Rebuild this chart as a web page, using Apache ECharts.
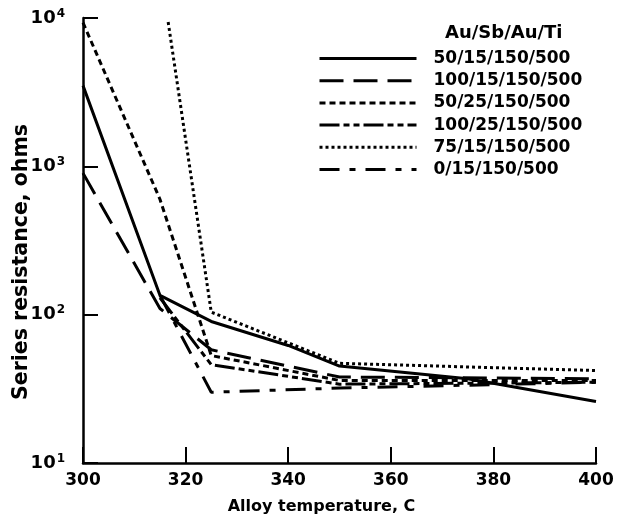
<!DOCTYPE html>
<html>
<head>
<meta charset="utf-8">
<script src="https://cdn.jsdelivr.net/npm/echarts@6/dist/echarts.min.js"></script>
<style>html,body{margin:0;padding:0;background:#fff;}#c{width:620px;height:524px;}</style>
</head>
<body>
<div id="c"></div>
<script>
// ---- data ----
const xTicks = [300, 320, 340, 360, 380, 400];
const yTicks = [10, 100, 1000, 10000];
const legendTitle = 'Au/Sb/Au/Ti';
const yAxisName = 'Series resistance, ohms';
const xAxisName = 'Alloy temperature, C';
const seriesNames = ['50/15/150/500', '100/15/150/500', '50/25/150/500', '100/25/150/500', '75/15/150/500', '0/15/150/500'];

const temps_50_15 = [300, 315, 325, 340, 350, 375, 400];
const res_50_15   = [3500, 135, 90, 62, 45, 37, 26];

const temps_100_15 = [300, 315, 325, 350, 400];
const res_100_15   = [900, 110, 58, 38, 37];

const temps_50_25 = [300, 315, 325, 350, 400];
const res_50_25   = [9300, 600, 53, 36, 36];

const temps_100_25 = [315, 325, 350, 400];
const res_100_25   = [130, 46, 34, 35];

const temps_75_15 = [316.6, 325, 350, 400];
const res_75_15   = [9400, 104, 47, 42];

const temps_0_15 = [315, 325, 350, 400];
const res_0_15   = [135, 30, 32, 35];

// ---- styles ----
const dashes = ['solid', [24, 10], [6, 4], [20, 4, 6, 4, 6, 4], [3, 3], [20, 10, 6, 10]];
const temps = [temps_50_15, temps_100_15, temps_50_25, temps_100_25, temps_75_15, temps_0_15];
const vals  = [res_50_15, res_100_15, res_50_25, res_100_25, res_75_15, res_0_15];

const font = '"DejaVu Sans", sans-serif';
const series = seriesNames.map((n, i) => ({
  name: n,
  type: 'line',
  symbol: 'none',
  showSymbol: false,
  clip: true,
  data: temps[i].map((t, k) => [t, vals[i][k]]),
  lineStyle: { color: '#000', width: 3, type: dashes[i], cap: 'butt' },
  itemStyle: { color: '#000' },
  animation: false
}));

const chart = echarts.init(document.getElementById('c'));
chart.setOption({
  animation: false,
  backgroundColor: '#fff',
  title: {
    text: legendTitle, left: 440, top: 19,
    textStyle: { fontFamily: font, fontWeight: 'bold', fontSize: 18, color: '#000' }
  },
  graphic: [{
    type: 'text', x: 22, y: 262, rotation: Math.PI / 2,
    style: { text: yAxisName, fontFamily: font, fontWeight: 'bold', fontSize: 20.5, fill: '#000', align: 'center', verticalAlign: 'middle' }
  }],
  legend: {
    orient: 'vertical', left: 313, top: 45,
    itemWidth: 97, itemHeight: 12, itemGap: 5.2,
    data: seriesNames,
    itemStyle: { opacity: 0 },
    textStyle: { fontFamily: font, fontWeight: 'bold', fontSize: 17, color: '#000', lineHeight: 17, padding: [0, 0, 0, 12] },
    lineStyle: { width: 3, opacity: 1 }
  },
  grid: { left: 83, right: 24, top: 18, bottom: 61, containLabel: false, outerBoundsMode: 'none' },
  xAxis: {
    type: 'value', min: xTicks[0], max: xTicks[xTicks.length - 1], interval: 20,
    name: xAxisName, nameLocation: 'middle', nameGap: 36,
    nameTextStyle: { fontFamily: font, fontWeight: 'bold', fontSize: 16, color: '#000', padding: [0, 36, 0, 0] },
    axisLine: { lineStyle: { color: '#000', width: 2.5 } },
    axisTick: { inside: true, length: 16, lineStyle: { color: '#000', width: 2 } },
    axisLabel: { fontFamily: font, fontWeight: 'bold', fontSize: 17, color: '#000', margin: 9 },
    splitLine: { show: false }
  },
  yAxis: {
    type: 'log', logBase: 10, min: yTicks[0], max: yTicks[yTicks.length - 1],
    axisLine: { lineStyle: { color: '#000', width: 2.5 } },
    axisTick: { inside: true, length: 15, lineStyle: { color: '#000', width: 2 } },
    axisLabel: {
      margin: 18, color: '#000',
      formatter: function (v) { return '{b|10}{s|' + Math.round(Math.log10(v)) + '}'; },
      rich: {
        b: { fontFamily: font, fontWeight: 'bold', fontSize: 18, color: '#000' },
        s: { fontFamily: font, fontWeight: 'bold', fontSize: 12, color: '#000', padding: [0, 0, 9, 1] }
      }
    },
    splitLine: { show: false },
    minorTick: { show: false }
  },
  series: series
});
</script>
</body>
</html>
